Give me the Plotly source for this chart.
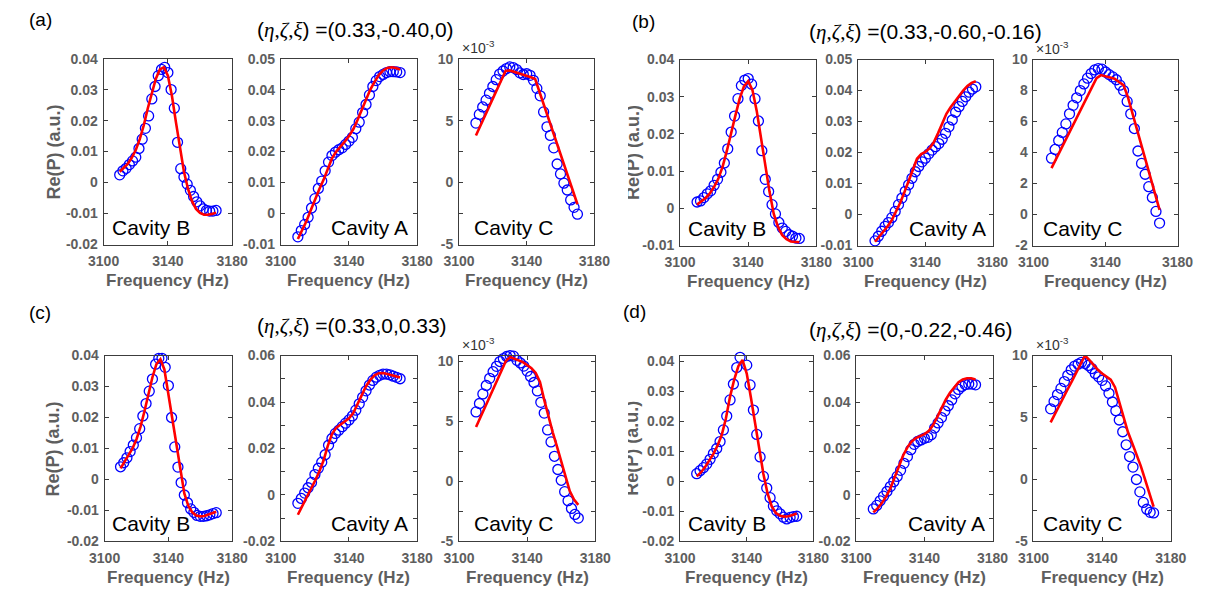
import plotly.graph_objects as go

W, H = 1215, 603

# ---------------- data ----------------
freq_meas = [3110, 3112, 3114, 3116, 3118, 3120, 3122, 3124, 3126, 3128, 3130,
             3132, 3134, 3136, 3138, 3140, 3142, 3144, 3146, 3148, 3150, 3152,
             3154, 3156, 3158, 3160, 3162, 3164, 3166, 3168, 3170]
freq_fit = [3110, 3112.5, 3115, 3117.5, 3120, 3122.5, 3125, 3127.5, 3130, 3132.5,
            3135, 3137.5, 3140, 3142.5, 3145, 3147.5, 3150, 3152.5, 3155, 3157.5,
            3160, 3162.5, 3165, 3167.5, 3170]

# (a) (eta, zeta, xi) = (0.33, -0.40, 0)
a_B_meas = [0.0025, 0.0038, 0.0046, 0.0058, 0.0070, 0.0082, 0.0110, 0.0140, 0.0175, 0.0215, 0.0270,
            0.0310, 0.0345, 0.0365, 0.0372, 0.0355, 0.0300, 0.0240, 0.0130, 0.0045, 0.0018, -0.0005,
            -0.0025, -0.0045, -0.0062, -0.0075, -0.0085, -0.0090, -0.0092, -0.0092, -0.0090]
a_B_fit = [0.0035, 0.0048, 0.0060, 0.0080, 0.0105, 0.0140, 0.0185, 0.0240, 0.0290, 0.0335,
           0.0365, 0.0372, 0.0345, 0.0280, 0.0195, 0.0110, 0.0035, -0.0020, -0.0060, -0.0085,
           -0.0098, -0.0104, -0.0104, -0.0101, -0.0097]
a_A_meas = [-0.0075, -0.0055, -0.0035, -0.0012, 0.0018, 0.0048, 0.0081, 0.0105, 0.0138, 0.0166, 0.0187,
            0.0198, 0.0206, 0.0212, 0.0223, 0.0234, 0.0246, 0.0274, 0.0295, 0.0326, 0.0352, 0.0383,
            0.0410, 0.0429, 0.0442, 0.0449, 0.0455, 0.0458, 0.0458, 0.0457, 0.0455]
a_A_fit = [-0.0082, -0.0055, -0.0025, 0.0010, 0.0045, 0.0078, 0.0108, 0.0145, 0.0178, 0.0200,
           0.0215, 0.0232, 0.0250, 0.0272, 0.0302, 0.0335, 0.0370, 0.0400, 0.0425, 0.0447,
           0.0462, 0.0470, 0.0472, 0.0470, 0.0465]
a_C_meas_e3 = [4.8, 5.5, 6.1, 6.65, 7.2, 7.75, 8.3, 8.75, 9.0, 9.2, 9.33,
               9.28, 9.12, 8.85, 8.72, 8.78, 8.65, 8.25, 7.6, 7.0, 5.7, 4.5,
               3.8, 2.8, 1.5, 0.7, -0.05, -0.6, -1.4, -2.0, -2.55]
a_C_fit_e3 = [3.8, 4.54, 5.29, 6.03, 6.77, 7.51, 8.26, 9.0, 9.05, 8.95,
              8.8, 8.7, 8.6, 8.5, 8.35, 7.34, 6.33, 5.32, 4.31, 3.3,
              2.29, 1.28, 0.27, -0.74, -1.75]

# (b) (eta, zeta, xi) = (0.33, -0.60, -0.16)
b_B_meas = [0.0017, 0.0020, 0.0029, 0.0039, 0.0047, 0.0062, 0.0078, 0.0097, 0.0122, 0.0160, 0.0205,
            0.0248, 0.0295, 0.0330, 0.0345, 0.0349, 0.0334, 0.0295, 0.0235, 0.0155, 0.0078, 0.0045,
            0.0010, -0.0015, -0.0038, -0.0053, -0.0062, -0.0071, -0.0075, -0.0080, -0.0081]
b_B_fit = [0.0010, 0.0018, 0.0028, 0.0040, 0.0058, 0.0080, 0.0112, 0.0155, 0.0205, 0.0250,
           0.0295, 0.0328, 0.0342, 0.0318, 0.0262, 0.0190, 0.0115, 0.0045, -0.0015, -0.0050,
           -0.0072, -0.0083, -0.0089, -0.0091, -0.0091]
b_A_meas = [-0.0085, -0.0070, -0.0054, -0.0038, -0.0026, -0.0010, 0.0010, 0.0032, 0.0053, 0.0075, 0.0096,
            0.0117, 0.0138, 0.0155, 0.0170, 0.0182, 0.0196, 0.0208, 0.0219, 0.0229, 0.0243, 0.0262,
            0.0283, 0.0305, 0.0330, 0.0348, 0.0365, 0.0380, 0.0395, 0.0405, 0.0412]
b_A_fit = [-0.0088, -0.0072, -0.0055, -0.0038, -0.0018, 0.0008, 0.0038, 0.0072, 0.0108, 0.0148,
           0.0180, 0.0195, 0.0202, 0.0214, 0.0233, 0.0262, 0.0295, 0.0325, 0.0346, 0.0365,
           0.0383, 0.0400, 0.0415, 0.0425, 0.0430]
b_C_meas_e3 = [3.64, 4.2, 4.78, 5.3, 5.85, 6.5, 7.05, 7.53, 8.0, 8.43, 8.8,
               9.1, 9.33, 9.42, 9.38, 9.2, 9.03, 8.88, 8.7, 8.35, 8.0, 7.3,
               6.5, 5.55, 4.1, 3.3, 2.6, 1.8, 1.1, 0.2, -0.55]
b_C_fit_e3 = [3.0, 3.58, 4.16, 4.74, 5.32, 5.9, 6.48, 7.06, 7.64, 8.22,
              8.8, 9.0, 8.92, 8.85, 8.77, 8.55, 8.35, 7.55, 6.5, 5.5,
              4.45, 3.4, 2.4, 1.35, 0.3]

# (c) (eta, zeta, xi) = (0.33, 0, 0.33)
c_B_meas = [0.0041, 0.0054, 0.0070, 0.0090, 0.0111, 0.0135, 0.0164, 0.0205, 0.0245, 0.0285, 0.0324,
            0.0372, 0.0391, 0.0391, 0.0362, 0.0303, 0.0200, 0.0105, 0.0040, -0.0010, -0.0050, -0.0075,
            -0.0095, -0.0106, -0.0116, -0.0119, -0.0119, -0.0117, -0.0114, -0.0110, -0.0107]
c_B_fit = [0.0036, 0.0056, 0.0078, 0.0100, 0.0130, 0.0170, 0.0220, 0.0275, 0.0330, 0.0372,
           0.0388, 0.0355, 0.0275, 0.0190, 0.0105, 0.0025, -0.0045, -0.0085, -0.0106, -0.0116,
           -0.0119, -0.0118, -0.0114, -0.0108, -0.0104]
c_A_meas = [-0.0036, -0.0015, 0.0008, 0.0031, 0.0054, 0.0088, 0.0115, 0.0141, 0.0173, 0.0214, 0.0243,
            0.0265, 0.0279, 0.0294, 0.0309, 0.0323, 0.0340, 0.0365, 0.0392, 0.0420, 0.0448, 0.0473,
            0.0493, 0.0507, 0.0515, 0.0520, 0.0520, 0.0517, 0.0511, 0.0506, 0.0500]
c_A_fit = [-0.0085, -0.0050, -0.0014, 0.0022, 0.0060, 0.0100, 0.0147, 0.0210, 0.0262, 0.0289,
           0.0303, 0.0314, 0.0330, 0.0352, 0.0392, 0.0432, 0.0468, 0.0495, 0.0515, 0.0524,
           0.0525, 0.0521, 0.0516, 0.0510, 0.0505]
c_C_meas_e3 = [5.8, 6.5, 7.3, 8.0, 8.6, 9.15, 9.6, 10.0, 10.25, 10.42, 10.5,
               10.45, 10.1, 9.88, 9.62, 9.2, 8.75, 8.25, 7.55, 6.6, 5.7, 4.3,
               3.3, 2.1, 1.0, 0.1, -0.85, -1.6, -2.25, -2.75, -3.05]
c_C_fit_e3 = [4.54, 5.33, 6.12, 6.91, 7.7, 8.5, 9.3, 10.05, 10.38, 10.25,
              10.1, 9.95, 9.7, 9.45, 9.05, 8.3, 6.8, 5.4, 4.1, 2.9,
              1.6, 0.3, -0.8, -1.5, -1.95]

# (d) (eta, zeta, xi) = (0, -0.22, -0.46)
d_B_meas = [0.0026, 0.0036, 0.0046, 0.0058, 0.0074, 0.0093, 0.0110, 0.0133, 0.0172, 0.0218, 0.0272,
            0.0325, 0.0380, 0.0414, 0.0422, 0.0388, 0.0322, 0.0238, 0.0157, 0.0082, 0.0017, -0.0022,
            -0.0054, -0.0082, -0.0098, -0.0108, -0.0119, -0.0125, -0.0120, -0.0117, -0.0116]
d_B_fit = [0.0017, 0.0030, 0.0048, 0.0068, 0.0092, 0.0120, 0.0155, 0.0210, 0.0283, 0.0340,
           0.0385, 0.0405, 0.0360, 0.0280, 0.0190, 0.0099, 0.0025, -0.0040, -0.0083, -0.0105,
           -0.0114, -0.0117, -0.0116, -0.0112, -0.0107]
d_A_meas = [-0.0060, -0.0045, -0.0025, -0.0005, 0.0015, 0.0036, 0.0057, 0.0080, 0.0106, 0.0136, 0.0165,
            0.0195, 0.0218, 0.0230, 0.0237, 0.0244, 0.0248, 0.0259, 0.0288, 0.0310, 0.0333, 0.0361,
            0.0384, 0.0409, 0.0435, 0.0454, 0.0467, 0.0475, 0.0477, 0.0477, 0.0474]
d_A_fit = [-0.0075, -0.0058, -0.0035, -0.0007, 0.0028, 0.0075, 0.0125, 0.0170, 0.0205, 0.0230,
           0.0245, 0.0254, 0.0262, 0.0275, 0.0300, 0.0335, 0.0375, 0.0410, 0.0440, 0.0465,
           0.0485, 0.0497, 0.0502, 0.0502, 0.0497]
d_C_meas_e3 = [5.7, 6.3, 6.85, 7.35, 7.9, 8.4, 8.85, 9.15, 9.3, 9.45, 9.36,
               9.2, 8.95, 8.55, 8.28, 8.0, 7.55, 6.95, 6.25, 5.55, 4.8, 3.85,
               2.8, 1.85, 1.0, 0.0, -1.0, -1.85, -2.4, -2.65, -2.7]
d_C_fit_e3 = [4.6, 5.3, 6.0, 6.65, 7.3, 7.95, 8.65, 9.3, 10.0, 9.65,
              9.25, 8.85, 8.55, 8.3, 8.05, 7.45, 6.2, 4.95, 3.85, 2.95,
              2.05, 1.1, 0.0, -1.2, -2.2]

freq_ticks = [3100, 3140, 3180]
freq_ticktext = ["3100", "3140", "3180"]

ticks_B_a = [-0.02, -0.01, 0, 0.01, 0.02, 0.03, 0.04]
ticks_A_a = [-0.01, 0, 0.01, 0.02, 0.03, 0.04, 0.05]
ticks_C_a = [-5, 0, 5, 10]
ticks_B_b = [-0.01, 0, 0.01, 0.02, 0.03, 0.04]
ticks_C_b = [-2, 0, 2, 4, 6, 8, 10]
ticks_A_c = [-0.02, 0, 0.02, 0.04, 0.06]

param_values = ["=(0.33,-0.40,0)", "=(0.33,-0.60,-0.16)", "=(0.33,0,0.33)", "=(0,-0.22,-0.46)"]
panel_tags = ["(a)", "(b)", "(c)", "(d)"]
cavity_names = ["Cavity B", "Cavity A", "Cavity C"]


def fmt(v):
    return f"{v:g}"


def minor_between(ticks):
    return [(ticks[i] + ticks[i + 1]) / 2 for i in range(len(ticks) - 1)]


# ---------------- layout helpers ----------------
def fx(px):
    return px / W


def fy(py):
    return 1 - py / H


AXIS_GRAY = "#3c3c3c"
LABEL_GRAY = "#5e5e5e"
FONT = "Liberation Sans, Arial, sans-serif"
SERIF = "Liberation Serif"

# pixel boxes: (x0, x1, y0, y1); lab = inset of the cavity label from the box edge
panels = [
    dict(meas=a_B_meas, fit=a_B_fit, box=(90, 222, 52, 243), yr=[-0.02, 0.04], yt=ticks_B_a, minor=None, cav=0, lab=7),
    dict(meas=a_A_meas, fit=a_A_fit, box=(272, 412, 52, 243), yr=[-0.01, 0.05], yt=ticks_A_a, minor=None, cav=1, lab=7),
    dict(meas=a_C_meas_e3, fit=a_C_fit_e3, box=(455, 594, 52, 243), yr=[-5, 10], yt=ticks_C_a,
         minor=minor_between(ticks_C_a), cav=2, lab=13),
    dict(meas=b_B_meas, fit=b_B_fit, box=(682, 822, 53, 244), yr=[-0.01, 0.04], yt=ticks_B_b, minor=None, cav=0, lab=6),
    dict(meas=b_A_meas, fit=b_A_fit, box=(865, 1003, 53, 244), yr=[-0.01, 0.05], yt=ticks_A_a, minor=None, cav=1, lab=5),
    dict(meas=b_C_meas_e3, fit=b_C_fit_e3, box=(1045, 1193, 53, 244), yr=[-2, 10], yt=ticks_C_b, minor=None, cav=2, lab=8),
    dict(meas=c_B_meas, fit=c_B_fit, box=(91, 222, 357, 548), yr=[-0.02, 0.04], yt=ticks_B_a, minor=None, cav=0, lab=6),
    dict(meas=c_A_meas, fit=c_A_fit, box=(272, 412, 357, 548), yr=[-0.02, 0.06], yt=ticks_A_c,
         minor=minor_between(ticks_A_c), cav=1, lab=7),
    dict(meas=c_C_meas_e3, fit=c_C_fit_e3, box=(455, 595, 357, 548), yr=[-5, 10.5], yt=ticks_C_a,
         minor=minor_between(ticks_C_a), cav=2, lab=13),
    dict(meas=d_B_meas, fit=d_B_fit, box=(682, 819, 357, 548), yr=[-0.02, 0.042], yt=ticks_B_a, minor=None, cav=0, lab=6),
    dict(meas=d_A_meas, fit=d_A_fit, box=(863, 1003, 357, 548), yr=[-0.02, 0.06], yt=ticks_A_c,
         minor=minor_between(ticks_A_c), cav=1, lab=6),
    dict(meas=d_C_meas_e3, fit=d_C_fit_e3, box=(1045, 1186, 357, 548), yr=[-5, 10], yt=ticks_C_a,
         minor=minor_between(ticks_C_a), cav=2, lab=8),
]

fig = go.Figure()
layout = dict(
    width=W, height=H, margin=dict(l=0, r=0, t=0, b=0),
    paper_bgcolor="white", plot_bgcolor="white", showlegend=False,
)
annotations = []

tick_font = dict(family=FONT, size=14, color=LABEL_GRAY, weight="bold")
xtitle_font = dict(family=FONT, size=17, color=LABEL_GRAY, weight="bold")
ytitle_font = dict(family=FONT, size=18, color=LABEL_GRAY, weight="bold")

for i, p in enumerate(panels):
    n = i + 1
    suffix = "" if n == 1 else str(n)
    xa, ya = "x" + suffix, "y" + suffix
    x0, x1, y0, y1 = p["box"]

    fig.add_trace(go.Scatter(
        x=freq_meas, y=p["meas"], mode="markers", xaxis=xa, yaxis=ya,
        marker=dict(symbol="circle-open", size=10, color="#0000FF",
                    line=dict(width=1.3, color="#0000FF")),
        cliponaxis=False, hoverinfo="x+y"))
    fig.add_trace(go.Scatter(
        x=freq_fit, y=p["fit"], mode="lines", xaxis=xa, yaxis=ya,
        line=dict(color="#FF0000", width=2.6), hoverinfo="x+y"))

    common = dict(showline=True, mirror="allticks", linecolor=AXIS_GRAY, linewidth=1,
                  ticks="inside", ticklen=4, tickwidth=1, tickcolor=AXIS_GRAY,
                  showgrid=False, zeroline=False, tickfont=tick_font, fixedrange=True)
    layout["xaxis" + suffix] = dict(
        common, domain=[fx(x0), fx(x1)], anchor=ya, range=[3100, 3180],
        tickmode="array", tickvals=freq_ticks, ticktext=freq_ticktext,
        ticklabelstandoff=4)
    yax = dict(
        common, domain=[fy(y1), fy(y0)], anchor=xa, range=p["yr"],
        tickmode="array", tickvals=p["yt"], ticktext=[fmt(v) for v in p["yt"]],
        ticklabelstandoff=2)
    if p["minor"]:
        yax["minor"] = dict(tickmode="array", tickvals=p["minor"], ticks="inside",
                            ticklen=4, tickcolor=AXIS_GRAY)
    layout["yaxis" + suffix] = yax

    # x-axis title
    annotations.append(dict(
        x=fx((x0 + x1) / 2), y=fy(y1 + 37), xref="paper", yref="paper",
        text="Frequency (Hz)", showarrow=False, font=xtitle_font,
        xanchor="center", yanchor="middle"))

    # cavity label inside the box
    cav = cavity_names[p["cav"]]
    if p["cav"] == 1:
        annotations.append(dict(
            x=fx(x1 - p["lab"]), y=fy(y1 - 18), xref="paper", yref="paper", text=cav,
            showarrow=False, font=dict(family=FONT, size=21, color="black"),
            xanchor="right", yanchor="middle"))
    else:
        annotations.append(dict(
            x=fx(x0 + p["lab"]), y=fy(y1 - 18), xref="paper", yref="paper", text=cav,
            showarrow=False, font=dict(family=FONT, size=21, color="black"),
            xanchor="left", yanchor="middle"))

    # exponent label over the Cavity C axes
    if p["cav"] == 2:
        annotations.append(dict(
            x=fx(x0 + 1), y=fy(y0 - 1), xref="paper", yref="paper",
            text="\u00d710<sup>-3</sup>", showarrow=False,
            font=dict(family=FONT, size=14, color="#333333"),
            xanchor="left", yanchor="bottom"))

# y-axis titles (the right-hand pair is partly hidden by a white patch)
for xc, yc in [(39, 147.5), (633, 148.5), (39, 452.5), (633, 452.5)]:
    annotations.append(dict(
        x=fx(xc), y=fy(yc), xref="paper", yref="paper", text="Re(P) (a.u.)",
        textangle=-90, showarrow=False, font=ytitle_font,
        xanchor="center", yanchor="middle"))
for yc in (148.5, 452.5):
    annotations.append(dict(
        x=fx(629), y=fy(yc), xref="paper", yref="paper", text=" ",
        showarrow=False, width=22, height=140, bgcolor="white",
        borderpad=0, borderwidth=0, xanchor="right", yanchor="middle"))

# group tags and parameter titles
tag_pos = [(11, 12), (631, 14), (11, 313), (621, 312)]
for tag, (tx, ty) in zip(panel_tags, tag_pos):
    annotations.append(dict(
        x=fx(tx), y=fy(ty), xref="paper", yref="paper", text=tag, showarrow=False,
        font=dict(family=FONT, size=19, color="black"), xanchor="left", yanchor="middle"))

greek = ("(<span style=\"font-family:'%s'\"><i>\u03b7</i>,<i>\u03b6</i>,<i>\u03be</i></span>) "
         % SERIF)
title_pos = [(245, 23), (812, 25), (245, 327), (812, 331)]
for k, (tx, ty) in enumerate(title_pos):
    annotations.append(dict(
        x=fx(tx), y=fy(ty), xref="paper", yref="paper",
        text=greek + param_values[k], showarrow=False,
        font=dict(family=FONT, size=21, color="black"), xanchor="left", yanchor="middle"))

layout["annotations"] = annotations
fig.update_layout(**layout)

fig.write_html("out.html")
